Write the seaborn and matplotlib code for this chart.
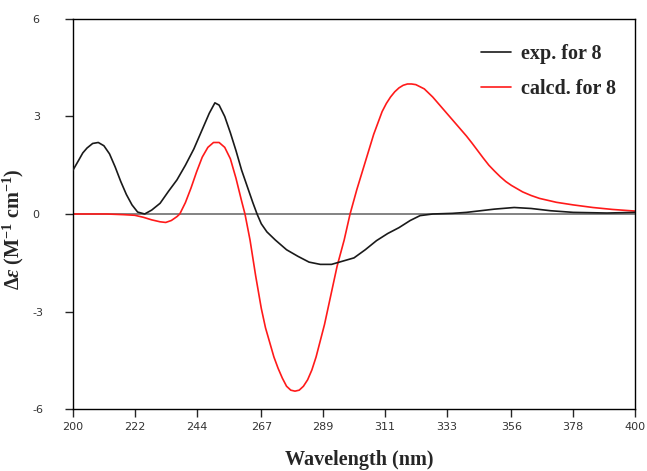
import numpy as np
import pandas as pd
import seaborn as sns
import matplotlib
matplotlib.use("Agg")
import matplotlib.pyplot as plt

# exp. CD curve (black)
exp_wl = [200, 202, 203.5, 205, 207, 209, 211, 213, 215, 217, 219, 221, 223, 225.5, 228, 231,
          234, 237, 240, 243, 246, 248.5, 250.5, 252, 254, 256, 258, 260, 262, 264, 265.5,
          267, 269, 272, 276, 280, 284, 288, 292, 296, 300, 304, 308, 312, 316, 320, 323.5,
          328, 335, 340, 345, 350, 357, 363, 370, 378, 390, 400]
exp_de = [1.35, 1.65, 1.88, 2.03, 2.17, 2.2, 2.1, 1.85, 1.45, 1.0, 0.6, 0.28, 0.06, 0.0, 0.12, 0.33,
          0.7, 1.05, 1.5, 2.0, 2.6, 3.1, 3.42, 3.35, 3.0, 2.5, 1.95, 1.35, 0.85, 0.35, 0.0,
          -0.3, -0.55, -0.8, -1.1, -1.3, -1.48, -1.55, -1.55, -1.45, -1.35, -1.1, -0.82, -0.6, -0.42, -0.2, -0.05,
          0.0, 0.02, 0.05, 0.1, 0.15, 0.2, 0.17, 0.1, 0.05, 0.03, 0.05]

# calcd. ECD curve (red)
calc_wl = [200, 205, 210, 212, 215, 218, 222, 225, 228, 231, 233, 235, 237, 238, 240,
           242, 244, 246, 248, 250, 252, 254, 256, 258, 260, 261.2, 263, 265, 267, 268.5, 270,
           271.5, 273, 274.5, 276, 277.5, 279, 280.5, 282, 283.5, 285, 286.5, 288, 289.5, 291,
           292.5, 294, 296.5, 298.6, 301, 304, 307, 310, 311.5, 313, 314.5, 316, 317.5, 319,
           320.5, 322, 325, 328, 331, 334, 337, 340, 342, 344, 346, 348, 350, 352, 354, 356,
           360, 363, 366, 372, 378, 385, 392, 400]
calc_de = [0, 0, 0, 0, -0.01, -0.02, -0.04, -0.1, -0.18, -0.24, -0.26, -0.2, -0.08, 0.0, 0.35,
           0.8, 1.3, 1.75, 2.05, 2.2, 2.2, 2.05, 1.7, 1.1, 0.4, 0.0, -0.8, -1.9, -2.9, -3.5, -3.95,
           -4.4, -4.75, -5.05, -5.3, -5.42, -5.45, -5.42, -5.3, -5.1, -4.8, -4.4, -3.9, -3.4, -2.8,
           -2.2, -1.6, -0.8, 0.0, 0.75, 1.6, 2.45, 3.15, 3.4, 3.6, 3.76, 3.88, 3.96, 4.0,
           4.0, 3.98, 3.85, 3.6, 3.3, 3.0, 2.7, 2.4, 2.18, 1.95, 1.72, 1.5, 1.32, 1.15, 1.0, 0.88,
           0.68, 0.57, 0.48, 0.36, 0.28, 0.2, 0.14, 0.09]

x_ticks = [200, 222, 244, 267, 289, 311, 333, 356, 378, 400]
y_ticks = [-6, -3, 0, 3, 6]

exp_df = pd.DataFrame({'wl': exp_wl, 'de': exp_de})
calc_df = pd.DataFrame({'wl': calc_wl, 'de': calc_de})

sns.set_style('ticks')
plt.rcParams['axes.unicode_minus'] = False
plt.rcParams['mathtext.fontset'] = 'custom'
plt.rcParams['mathtext.rm'] = 'Liberation Serif:bold'
plt.rcParams['mathtext.it'] = 'Liberation Serif:bold:italic'
plt.rcParams['mathtext.bf'] = 'Liberation Serif:bold'

fig = plt.figure(figsize=(6.47, 4.71), dpi=100)
ax = fig.add_axes([0.1128, 0.1316, 0.8687, 0.8281])

ax.axhline(0, color='#6e6e6e', lw=1.2, zorder=1)
sns.lineplot(data=exp_df, x='wl', y='de', ax=ax, color='#1a1a1a', lw=1.2,
             sort=False, estimator=None, label='exp. for 8', zorder=3)
sns.lineplot(data=calc_df, x='wl', y='de', ax=ax, color='#ff1a1a', lw=1.2,
             sort=False, estimator=None, label='calcd. for 8', zorder=2)

ax.set_xlim(200, 400)
ax.set_ylim(-6, 6)
ax.set_xticks(x_ticks)
ax.set_yticks(y_ticks)
ax.set_xticklabels([str(t) for t in x_ticks])
ax.set_yticklabels([str(t) for t in y_ticks])

for s in ax.spines.values():
    s.set_color('black')
    s.set_linewidth(1.0)

ax.tick_params(axis='x', direction='out', length=6, width=1, pad=3,
               labelsize=8, labelcolor='#333333')
ax.tick_params(axis='y', direction='out', length=6, width=1, pad=23,
               labelsize=8, labelcolor='#333333')
for lab in ax.get_yticklabels():
    lab.set_horizontalalignment('left')
for lab in ax.get_xticklabels() + ax.get_yticklabels():
    lab.set_family('DejaVu Sans')

ax.set_xlabel('Wavelength (nm)', fontsize=14.5, fontweight='bold',
              family='Liberation Serif')
ax.xaxis.set_label_coords(0.51, -0.105)
ax.set_ylabel('Δ$\\mathit{ε}$ (M$^{-1}$ cm$^{-1}$)', fontsize=14.5, fontweight='bold',
              family='Liberation Serif')
ax.yaxis.set_label_coords(-0.083, 0.46)

leg = ax.legend(loc='upper left', bbox_to_anchor=(0.726, 0.937), frameon=False,
                borderpad=0, borderaxespad=0, handlelength=1.5, handletextpad=0.5,
                labelspacing=0.75, prop={'family': 'Liberation Serif', 'weight': 'bold', 'size': 14.5})

fig.savefig('out.png', dpi=100)
